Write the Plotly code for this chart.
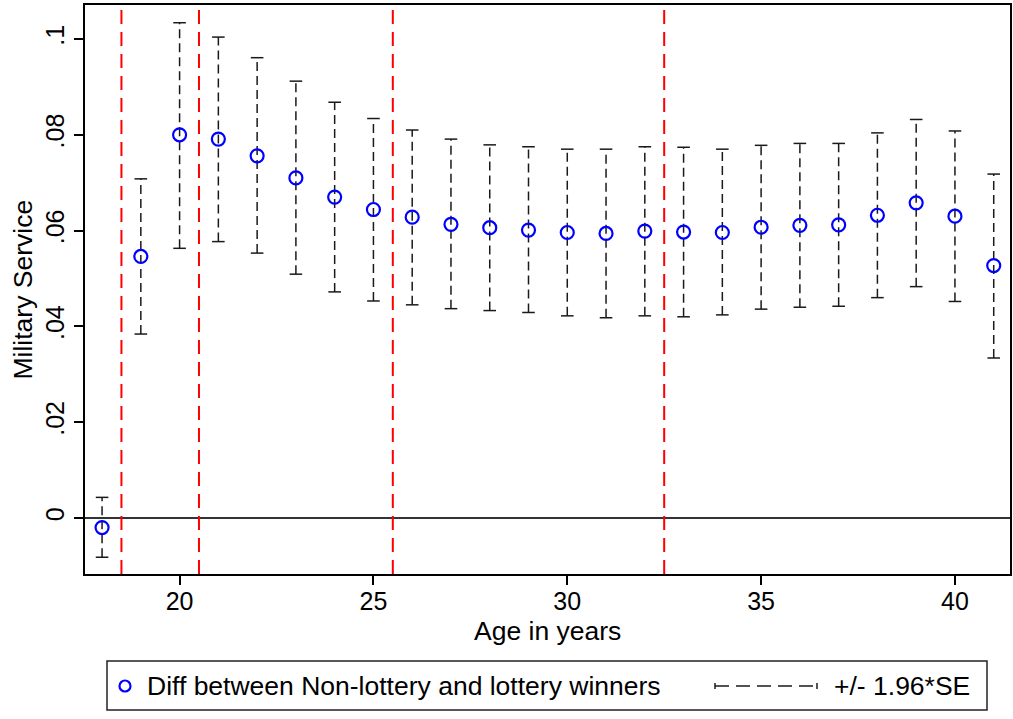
import plotly.graph_objects as go

ages = list(range(18, 42))
est = [-0.0020, 0.0546, 0.0800, 0.0791, 0.0756, 0.0710, 0.0670, 0.0644, 0.0628, 0.0613,
       0.0606, 0.0601, 0.0596, 0.0594, 0.0599, 0.0597, 0.0596, 0.0607, 0.0611, 0.0612,
       0.0632, 0.0658, 0.0630, 0.0527]
hi = [0.0043, 0.0708, 0.1034, 0.1004, 0.0961, 0.0912, 0.0868, 0.0834, 0.0810, 0.0791,
      0.0779, 0.0775, 0.0770, 0.0770, 0.0775, 0.0774, 0.0770, 0.0778, 0.0782, 0.0782,
      0.0804, 0.0832, 0.0808, 0.0718]
lo = [-0.0082, 0.0384, 0.0563, 0.0577, 0.0553, 0.0509, 0.0472, 0.0453, 0.0445, 0.0437,
      0.0433, 0.0429, 0.0422, 0.0418, 0.0422, 0.0420, 0.0424, 0.0436, 0.0440, 0.0442,
      0.0460, 0.0483, 0.0452, 0.0334]
cutoffs = [18.5, 20.5, 25.5, 32.5]
x_ticks = [20, 25, 30, 35, 40]
y_ticks = [0, 0.02, 0.04, 0.06, 0.08, 0.1]
y_ticktext = ["0", ".02", ".04", ".06", ".08", ".1"]
legend_labels = ["Diff between Non-lottery and lottery winners", "+/- 1.96*SE"]
x_title = "Age in years"
y_title = "Military Service"

FONT = "Liberation Sans, Arial, sans-serif"
FS = 26.5
TFS = 25
W, H = 1013, 719
ML, MR, MT, MB = 85, 3, 5, 145
PW, PH = W - ML - MR, H - MT - MB


def px(xp):
    return (xp - ML) / PW


def py(yp):
    return (H - MB - yp) / PH


fig = go.Figure()

# dashed CI lines
ex, ey = [], []
for a, l, h in zip(ages, lo, hi):
    ex += [a, a, None]
    ey += [l, h, None]
fig.add_trace(go.Scatter(x=ex, y=ey, mode="lines",
                         line=dict(color="#1a1a1a", width=1.5, dash="9px,5px"),
                         showlegend=False, hoverinfo="skip"))
# caps
fig.add_trace(go.Scatter(x=ages + ages, y=lo + hi, mode="markers",
                         marker=dict(symbol="line-ew", size=9,
                                     line=dict(color="#1a1a1a", width=1.5)),
                         showlegend=False, hoverinfo="skip"))
# point estimates
fig.add_trace(go.Scatter(x=ages, y=est, mode="markers",
                         marker=dict(symbol="circle-open", size=13, color="#0000ff",
                                     line=dict(color="#0000ff", width=2.2)),
                         showlegend=False))

shapes = []
for c in cutoffs:
    shapes.append(dict(type="line", xref="x", yref="paper", x0=c, x1=c, y0=0, y1=1,
                       line=dict(color="#ff0000", width=2, dash="14px,8px")))

# manual legend
shapes.append(dict(type="rect", xref="paper", yref="paper",
                   x0=px(107), x1=px(987), y0=py(661), y1=py(710),
                   line=dict(color="#222222", width=1.5), fillcolor="white"))
shapes.append(dict(type="circle", xref="paper", yref="paper",
                   x0=px(119.5), x1=px(130.5), y0=py(680.5), y1=py(691.5),
                   line=dict(color="#0000ff", width=2.2)))
shapes.append(dict(type="line", xref="paper", yref="paper",
                   x0=px(715), x1=px(817), y0=py(686), y1=py(686),
                   line=dict(color="#1a1a1a", width=1.5, dash="14px,7px")))
for xe in (715, 817):
    shapes.append(dict(type="line", xref="paper", yref="paper",
                       x0=px(xe), x1=px(xe), y0=py(683), y1=py(689),
                       line=dict(color="#1a1a1a", width=1.5)))

annotations = [
    dict(xref="paper", yref="paper", x=px(145), y=py(686), xanchor="left", yanchor="middle",
         text=legend_labels[0], showarrow=False, font=dict(size=FS, color="black", family=FONT)),
    dict(xref="paper", yref="paper", x=px(832), y=py(686), xanchor="left", yanchor="middle",
         text=legend_labels[1], showarrow=False, font=dict(size=FS, color="black", family=FONT)),
    dict(xref="paper", yref="paper", x=0.5, y=py(631), xanchor="center", yanchor="middle",
         text=x_title, showarrow=False, font=dict(size=FS, color="black", family=FONT)),
    dict(xref="paper", yref="paper", x=px(22), y=0.5, xanchor="center", yanchor="middle",
         text=y_title, textangle=-90, showarrow=False,
         font=dict(size=FS, color="black", family=FONT)),
]

fig.update_layout(
    width=W, height=H, autosize=False,
    margin=dict(l=ML, r=MR, t=MT, b=MB),
    paper_bgcolor="white", plot_bgcolor="white",
    font=dict(family=FONT, color="black", size=FS),
    shapes=shapes, annotations=annotations,
    showlegend=False,
    xaxis=dict(range=[17.56, 41.42], tickvals=x_ticks, ticks="outside", ticklen=9,
               tickwidth=1.5, tickcolor="black", showgrid=False, zeroline=False,
               showline=True, mirror=True, linecolor="black", linewidth=1.5,
               tickfont=dict(size=TFS), automargin=False, ticklabelstandoff=-5),
    yaxis=dict(range=[-0.0117, 0.1071], tickvals=y_ticks, ticktext=y_ticktext,
               tickangle=-90, ticks="outside", ticklen=9, tickwidth=1.5, tickcolor="black",
               showgrid=False, zeroline=True, zerolinecolor="#333333", zerolinewidth=1.5,
               showline=True, mirror=True, linecolor="black", linewidth=1.5,
               tickfont=dict(size=TFS), automargin=False),
)

fig.write_html("out.html", config={"displayModeBar": False},
               post_script="document.body.style.margin='0';document.body.style.overflow='hidden';")
